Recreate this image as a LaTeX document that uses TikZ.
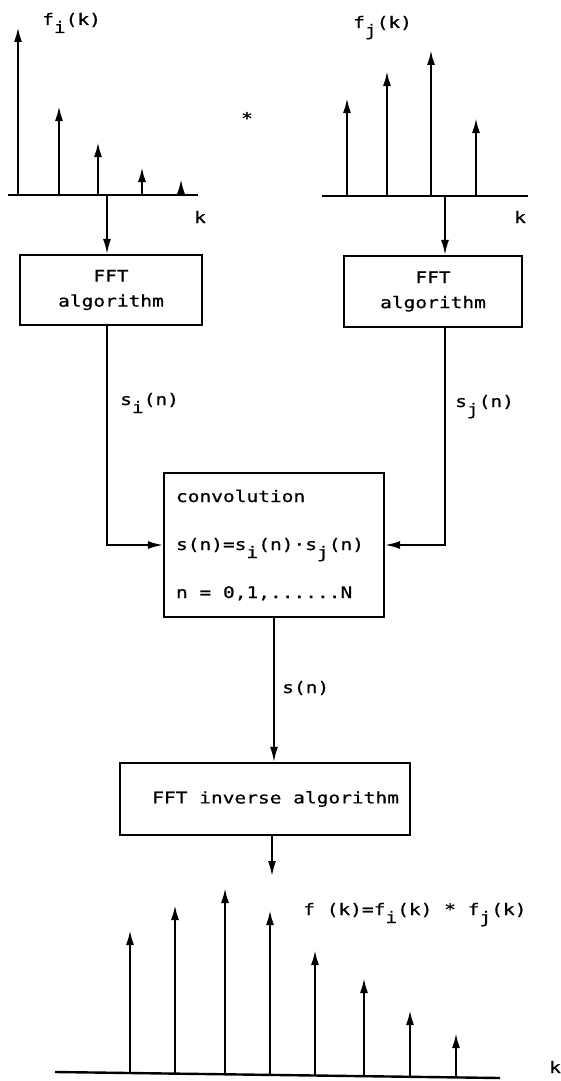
\documentclass[tikz,border=0pt]{standalone}
\usepackage{fontspec}
\setmainfont{DejaVu Sans Mono}[FakeStretch=1.22, FakeBold=0.8]
\usetikzlibrary{arrows.meta,calc}

% typewriter-style lowered index and one full character cell of space
\newcommand\lo[1]{\raisebox{-0.5em}{#1}}
\newcommand\cell{\hphantom{0}}

\begin{document}
\begin{tikzpicture}[x=1pt,y=-1pt,
  every node/.style={font=\fontsize{16}{18}\selectfont, inner sep=0pt},
  spike/.style={line width=2.2pt, -{Latex[length=15pt,width=8pt]}},
  axisline/.style={line width=2.4pt},
  flow/.style={line width=1.7pt, -{Latex[length=15pt,width=8pt]}},
  block/.style={draw, line width=2.2pt, align=center},
  lbl/.style={anchor=base west}]
\useasboundingbox (0,0) rectangle (560,1081);

% input sequence f_i(k)
\draw[axisline] (8,195) -- (198,195);
\foreach \x/\t in {18/27,59/106,98/142,142/167,181/179}
  \draw[spike] (\x,195) -- (\x,\t);
\node[lbl] (fi) at (42,25) {f\lo{i}(k)};
\node[anchor=base] (ki) at (200,223) {k};
\coordinate (ai) at (107,195);

% convolution sign
\node (star) at (247,118) {*};

% input sequence f_j(k)
\draw[axisline] (322,196) -- (528,196);
\foreach \x/\t in {347/98,387/71,431/50,476/118}
  \draw[spike] (\x,196) -- (\x,\t);
\node[lbl] (fj) at (353,28) {f\lo{j}(k)};
\node[anchor=base] (kj) at (520,223) {k};
\coordinate (aj) at (445,196);

% transform blocks
\node[block, minimum width=182pt, minimum height=70pt,
      font=\fontsize{16}{25}\selectfont] (fft1) at (111,290) {FFT\\algorithm};
\node[block, minimum width=178pt, minimum height=71pt,
      font=\fontsize{16}{25}\selectfont] (fft2) at (433,291.5) {FFT\\algorithm};

\node[block, minimum width=220pt, minimum height=144pt, text width=196pt,
      align=left, font=\fontsize{16}{48}\selectfont] (conv) at (274,545)
  {convolution\\s(n)=s\lo{i}(n)·s\lo{j}(n)\\n\cell=\cell0,1,......N};

\node[block, minimum width=290pt, minimum height=72pt, text width=268pt,
      align=right] (inv) at (265,799) {FFT\cell inverse\cell algorithm};

% signal flow
\draw[flow] (ai) -- (ai |- fft1.north);
\draw[flow] (aj) -- (aj |- fft2.north);
\draw[flow] (ai |- fft1.south) |- (conv.west);
\draw[flow] (aj |- fft2.south) |- (conv.east);
\draw[flow] (conv.south) -- (conv.south |- inv.north);
\coordinate (tip) at (272,876);
\draw[flow] (inv.south -| tip) -- (tip);

\node[lbl] (si) at (120,405) {s\lo{i}(n)};
\node[lbl] (sj) at (455,407) {s\lo{j}(n)};
\node[lbl] (sn) at (282,693) {s(n)};

% result sequence f(k)
\draw[axisline] (55,1072) -- (500,1078);
\foreach \x/\b/\t in {130/1073/930,175/1073.6/905,225/1074.3/888,270/1074.9/910,
                      315/1075.5/950,364/1076.2/978,410/1076.8/1010,456/1077.4/1033}
  \draw[spike] (\x,\b) -- (\x,\t);
\node[lbl] (fout) at (303,915) {f\cell(k)=f\lo{i}(k)\cell*\cell f\lo{j}(k)};
\node[anchor=base] (kb) at (555,1073) {k};
\end{tikzpicture}
\end{document}
